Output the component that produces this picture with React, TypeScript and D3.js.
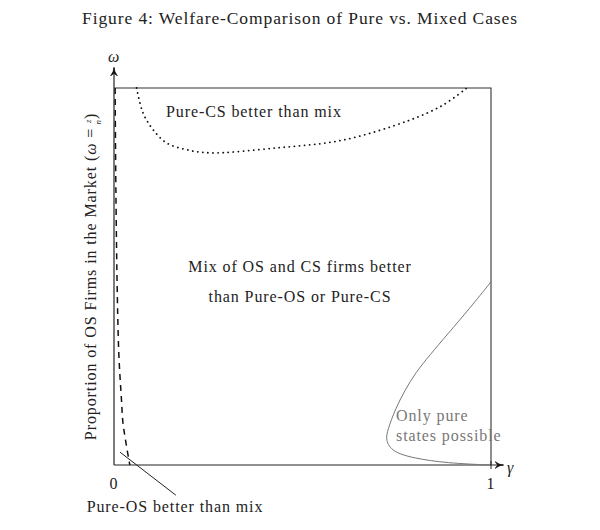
import * as d3 from 'd3'

// Pure-OS boundary (dashed), read as gamma for given omega
const pureOsOmega = [1, 0.73, 0.44, 0.29, 0.17, 0.11, 0]
const pureOsGamma = [0.003, 0.005, 0.009, 0.013, 0.02, 0.024, 0.042]

// Pure-CS boundary (dotted)
const pureCsGamma = [0.06, 0.077, 0.104, 0.14, 0.194, 0.255, 0.432, 0.608, 0.785, 0.873, 0.936]
const pureCsOmega = [1, 0.934, 0.889, 0.854, 0.836, 0.828, 0.841, 0.862, 0.915, 0.955, 1]

// "Only pure states possible" boundary (gray)
const onlyPureGamma = [1.0, 0.944, 0.883, 0.838, 0.8, 0.772, 0.745, 0.726, 0.72, 0.738, 0.794, 0.883, 0.997]
const onlyPureOmega = [0.486, 0.416, 0.345, 0.292, 0.245, 0.199, 0.146, 0.093, 0.066, 0.035, 0.018, 0.005, 0.0]

const xTicks = [0, 1]

const FONT = '"Liberation Serif", "DejaVu Serif", serif'
const LS = 0.9

export default function App() {
  const width = 600
  const height = 530

  const x = d3.scaleLinear().domain([0, 1]).range([114, 491])
  const y = d3.scaleLinear().domain([0, 1]).range([465, 88])

  const zip = (gs: number[], os: number[]) => gs.map((g, i) => [g, os[i]] as [number, number])

  const line = d3
    .line<[number, number]>()
    .x((d) => x(d[0]))
    .y((d) => y(d[1]))
    .curve(d3.curveCatmullRom.alpha(0.5))

  const smooth = d3
    .line<[number, number]>()
    .x((d) => x(d[0]))
    .y((d) => y(d[1]))
    .curve(d3.curveBasis)

  const pureOsPath = line(zip(pureOsGamma, pureOsOmega)) || ''
  const pureCsPath = line(zip(pureCsGamma, pureCsOmega)) || ''
  const onlyPurePath = smooth(zip(onlyPureGamma, onlyPureOmega)) || ''

  const x0 = x(0)
  const y0 = y(0)

  const txt = { fontFamily: FONT, fontSize: 16, fill: '#222', style: { letterSpacing: `${LS}px` } }

  return (
    <svg width={width} height={height} style={{ display: 'block', position: 'absolute', left: 0, top: 0 }}>
      <rect width={width} height={height} fill="#fff" />
      <defs>
        <marker id="arrow" viewBox="0 0 10 10" refX="9" refY="5" markerWidth="9" markerHeight="9" orient="auto" markerUnits="userSpaceOnUse">
          <path d="M0,1 Q5,5 10,5 Q5,5 0,9 L3,5 Z" fill="#111" stroke="#111" strokeWidth={0.6} />
        </marker>
      </defs>

      {/* title */}
      <text x={300} y={24} textAnchor="middle" {...txt} fontSize={17.5}>
        Figure 4: Welfare-Comparison of Pure vs. Mixed Cases
      </text>

      {/* frame: top and right */}
      <path d={`M${x0},${y(1)} H${x(1)} V${y0}`} fill="none" stroke="#333" strokeWidth={1.1} />

      {/* axes */}
      <line x1={x0} y1={y0} x2={x(1) + 12} y2={y0} stroke="#222" strokeWidth={1.2} markerEnd="url(#arrow)" />
      <line x1={x0} y1={y0} x2={x0} y2={y(1) - 20} stroke="#444" strokeWidth={1.4} markerEnd="url(#arrow)" />

      {/* x ticks */}
      {xTicks.map((t) => (
        <g key={t}>
          {t === 1 && <line x1={x(t)} x2={x(t)} y1={y0 - 4} y2={y0 + 4} stroke="#222" strokeWidth={1} />}
          <text x={x(t)} y={y0 + 24} textAnchor="middle" {...txt}>
            {t}
          </text>
        </g>
      ))}
      <text x={x(1) + 16} y={y0 + 8} {...txt} fontStyle="italic">
        γ
      </text>
      <text x={x0} y={y(1) - 26} textAnchor="middle" {...txt} fontStyle="italic">
        ω
      </text>

      {/* y label */}
      <text transform={`translate(96,${(y(0) + y(1)) / 2}) rotate(-90)`} textAnchor="middle" {...txt}>
        Proportion of OS Firms in the Market (<tspan fontStyle="italic">ω</tspan> ={' '}
        <tspan fontStyle="italic" fontSize={9} dy={-5}>z</tspan>
        <tspan fontStyle="italic" fontSize={9} dx={-6} dy={10}>n</tspan>
        <tspan dy={-5}>)</tspan>
      </text>

      {/* curves */}
      <path d={pureOsPath} fill="none" stroke="#111" strokeWidth={1.5} strokeDasharray="6,5" />
      <path d={pureCsPath} fill="none" stroke="#111" strokeWidth={1.8} strokeDasharray="0.1,5" strokeLinecap="round" />
      <path d={onlyPurePath} fill="none" stroke="#777" strokeWidth={1} />

      {/* region labels */}
      <text x={166} y={117} {...txt}>
        Pure-CS better than mix
      </text>
      <text x={300} y={272} textAnchor="middle" {...txt}>
        Mix of OS and CS firms better
      </text>
      <text x={300} y={302} textAnchor="middle" {...txt}>
        than Pure-OS or Pure-CS
      </text>
      <text x={396} y={421} {...txt} fill="#777">
        Only pure
      </text>
      <text x={396} y={441} {...txt} fill="#777">
        states possible
      </text>

      {/* Pure-OS annotation */}
      <line x1={x(0.016)} y1={y(0.034)} x2={x(0.164)} y2={y(-0.08)} stroke="#222" strokeWidth={1} />
      <text x={175} y={512} textAnchor="middle" {...txt}>
        Pure-OS better than mix
      </text>
    </svg>
  )
}
